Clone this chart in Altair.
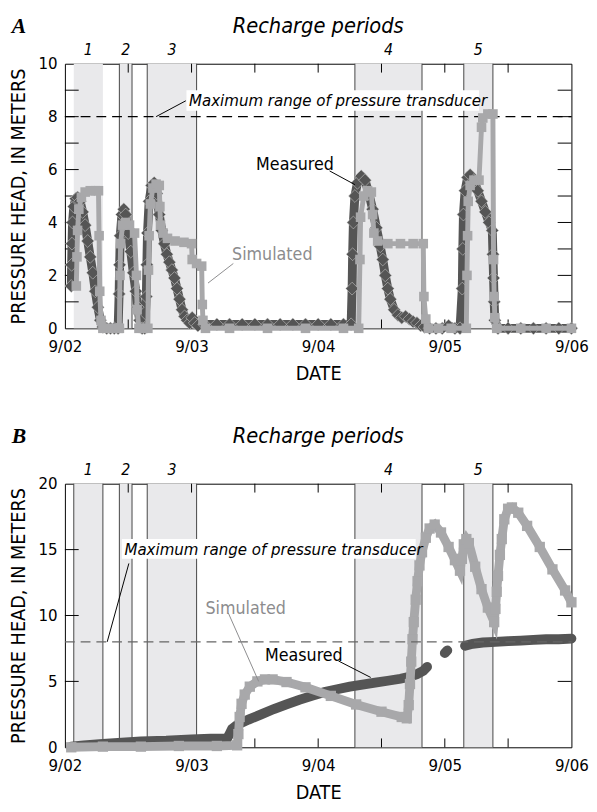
import altair as alt
import pandas as pd

FONT = "'Liberation Sans Narrow', 'DejaVu Sans Condensed', 'Roboto Condensed', Roboto, sans-serif"
DARK = "#555555"
LIGHT = "#a8a8aa"
SHADE = "#e9e9eb"

# ---------------- shared data ----------------
x_tick_days = [0, 1, 2, 3, 4]
x_labels = ["9/02", "9/03", "9/04", "9/05", "9/06"]
half_day_ticks = [0.5, 1.0, 1.5, 2.0, 2.5, 3.0, 3.5]
period_labels = ["1", "2", "3", "4", "5"]
period_start = [0.07, 0.43, 0.65, 2.29, 3.15]
period_end = [0.30, 0.53, 1.04, 2.82, 3.38]

# ---------------- panel A data ----------------
a_meas_day = [0.05, 0.053, 0.056, 0.06, 0.07, 0.085, 0.10, 0.12, 0.14, 0.16, 0.18, 0.20, 0.22, 0.24, 0.26, 0.28, 0.30, 0.33, 0.36, 0.39, 0.42,
              0.428, 0.432, 0.437, 0.45, 0.465, 0.48, 0.50, 0.52, 0.54, 0.56, 0.575, 0.59, 0.61, 0.63,
              0.643, 0.647, 0.652, 0.665, 0.685, 0.705, 0.725, 0.745, 0.765, 0.785, 0.805, 0.825, 0.845, 0.865, 0.885, 0.905, 0.925, 0.945, 0.965, 0.985, 1.005, 1.025, 1.05,
              1.10, 1.2, 1.3, 1.4, 1.5, 1.6, 1.7, 1.8, 1.9, 2.0, 2.1, 2.2, 2.26,
              2.268, 2.272, 2.278, 2.29, 2.31, 2.34, 2.37, 2.40, 2.43, 2.46, 2.49, 2.51, 2.53, 2.55, 2.57, 2.60, 2.63, 2.66, 2.69, 2.72, 2.75, 2.78, 2.81, 2.84, 2.88, 2.93, 2.98, 3.03, 3.08, 3.12,
              3.138, 3.142, 3.147, 3.16, 3.18, 3.20, 3.23, 3.26, 3.29, 3.32, 3.35, 3.375, 3.38, 3.385, 3.39, 3.395, 3.42, 3.5, 3.6, 3.7, 3.8, 3.9, 4.0]
a_meas_head = [1.6, 2.4, 3.2, 4.0, 4.6, 4.9, 4.95, 4.8, 4.4, 3.9, 3.3, 2.7, 2.1, 1.4, 0.8, 0.3, 0.05, 0.0, 0.0, 0.0, 0.0,
               1.3, 2.4, 3.5, 4.3, 4.5, 4.3, 3.6, 2.9, 2.1, 1.4, 0.8, 0.3, 0.0, 0.0,
               1.2, 2.4, 3.6, 4.8, 5.4, 5.5, 5.1, 4.3, 3.7, 3.2, 2.8, 2.5, 2.2, 1.9, 1.5, 1.1, 0.7, 0.45, 0.3, 0.2, 0.4, 0.2, 0.1,
               0.15, 0.15, 0.15, 0.15, 0.15, 0.15, 0.15, 0.15, 0.15, 0.15, 0.15, 0.15, 0.15,
               1.5, 2.8, 4.0, 5.0, 5.5, 5.75, 5.6, 5.1, 4.5, 3.8, 3.1, 2.6, 2.0, 1.5, 1.1, 0.7, 0.5, 0.4, 0.45, 0.35, 0.25, 0.2, 0.1, 0.05, 0.0, 0.0, 0.0, 0.1, 0.0, 0.0,
               1.5, 3.0, 4.3, 5.2, 5.7, 5.8, 5.6, 5.2, 4.8, 4.4, 4.0, 3.7, 2.8, 1.9, 1.0, 0.3, 0.0, 0.0, 0.0, 0.0, 0.0, 0.0, 0.0]

a_sim_day = [0.09, 0.095, 0.10, 0.11, 0.13, 0.16, 0.20, 0.24, 0.265, 0.27, 0.275, 0.285, 0.30, 0.36, 0.42,
             0.43, 0.435, 0.44, 0.455, 0.48, 0.51, 0.55, 0.565, 0.57, 0.585, 0.62, 0.655,
             0.66, 0.665, 0.675, 0.695, 0.72, 0.745, 0.75, 0.755, 0.775, 0.81, 0.87, 0.94, 1.0, 1.005, 1.04, 1.08, 1.085, 1.09, 1.11, 1.3, 1.6, 1.9, 2.2, 2.32,
             2.33, 2.335, 2.36, 2.39, 2.42, 2.43, 2.44, 2.47, 2.55, 2.65, 2.75, 2.83, 2.835, 2.85, 2.87, 2.95, 3.05, 3.17,
             3.175, 3.18, 3.185, 3.20, 3.23, 3.27, 3.29, 3.30, 3.34, 3.38, 3.385, 3.39, 3.395, 3.41, 3.6, 3.8, 4.0]
a_sim_head = [1.6, 2.7, 3.7, 4.5, 4.95, 5.15, 5.2, 5.2, 5.2, 3.5, 1.4, 0.3, 0.0, 0.0, 0.0,
              0.0, 2.0, 3.2, 3.9, 4.0, 3.9, 3.6, 2.0, 0.7, 0.0, 0.0, 0.0,
              2.2, 3.5, 4.7, 5.3, 5.45, 5.4, 4.6, 3.9, 3.6, 3.4, 3.3, 3.25, 3.2, 2.6, 2.45, 2.35, 0.9, 0.3, 0.0, 0.0, 0.0, 0.0, 0.0, 0.0,
              2.6, 4.2, 5.0, 5.2, 5.15, 4.3, 3.6, 3.3, 3.2, 3.2, 3.2, 3.2, 1.2, 0.35, 0.0, 0.0, 0.0, 0.0,
              2.0, 3.5, 4.8, 5.4, 5.6, 5.6, 7.6, 7.95, 8.1, 8.1, 2.6, 1.2, 0.4, 0.0, 0.0, 0.0, 0.0]

# ---------------- panel B data ----------------
b_meas_day = [0.05, 0.15, 0.3, 0.45, 0.6, 0.8, 1.0, 1.15, 1.28, 1.30, 1.32, 1.36, 1.45, 1.55, 1.65, 1.75, 1.85, 1.95, 2.05, 2.15, 2.25, 2.35, 2.45, 2.55, 2.65, 2.72, 2.78, 2.83, 2.86,
              3.0, 3.02,
              3.16, 3.22, 3.30, 3.40, 3.50, 3.60, 3.70, 3.80, 3.90, 4.0]
b_meas_head = [0.05, 0.15, 0.25, 0.35, 0.45, 0.5, 0.6, 0.65, 0.65, 1.0, 1.4, 1.7, 2.1, 2.5, 2.9, 3.25, 3.6, 3.9, 4.2, 4.4, 4.6, 4.75, 4.9, 5.05, 5.2, 5.35, 5.55, 5.8, 6.1,
               7.15, 7.35,
               7.7, 7.85, 7.95, 8.0, 8.05, 8.1, 8.15, 8.2, 8.2, 8.25]
b_meas_seg = [1] * 29 + [2] * 2 + [3] * 10

b_sim_day = [0.05, 0.3, 0.6, 0.9, 1.2, 1.36, 1.37, 1.38, 1.395, 1.42, 1.46, 1.52, 1.58, 1.64, 1.75, 1.9, 2.1, 2.3, 2.5, 2.66, 2.70,
             2.715, 2.725, 2.735, 2.745, 2.755, 2.77, 2.785, 2.80, 2.82, 2.85, 2.88, 2.92, 2.97, 3.03, 3.08, 3.12,
             3.135, 3.15, 3.17, 3.19, 3.24, 3.29, 3.34, 3.39, 3.40, 3.41, 3.42, 3.435, 3.45, 3.47, 3.50, 3.53, 3.58, 3.65, 3.75, 3.85, 3.95, 4.0]
b_sim_head = [0.0, 0.05, 0.05, 0.1, 0.1, 0.15, 1.0, 2.3, 3.3, 4.0, 4.6, 5.0, 5.15, 5.15, 4.95, 4.55, 3.9, 3.25, 2.7, 2.3, 2.2,
              3.2, 4.8, 6.5, 8.2, 9.5, 11.2, 12.6, 13.8, 14.8, 15.9, 16.6, 16.9, 16.3, 15.2, 14.2, 13.4,
              14.3, 15.4, 15.8, 15.5, 13.7, 12.0, 10.6, 9.5, 10.5, 11.8, 13.0, 14.6, 15.8, 17.3, 18.1, 18.2, 17.8, 16.8, 15.2, 13.5, 11.9, 11.0]

W = 515


def panel(letter, ymax, height, ylabels, yticks, meas_df, sim_df, kind, ann, header_dy, dash_color):
    xscale = alt.Scale(domain=[0, 4], nice=False, zero=False)
    yscale = alt.Scale(domain=[0, ymax], nice=False)
    xaxis = alt.Axis(values=x_tick_days, labelExpr="['9/02','9/03','9/04','9/05','9/06'][datum.value]",
                     title="DATE", labelFlush=False, labelPadding=11, titlePadding=9)
    yaxis = alt.Axis(values=ylabels, title="PRESSURE HEAD, IN METERS", labelPadding=8, titlePadding=10)

    def X(f):
        return alt.X(f, type="quantitative", scale=xscale, axis=xaxis)

    def Y(f):
        return alt.Y(f, type="quantitative", scale=yscale, axis=yaxis)

    periods = pd.DataFrame({"s": period_start, "e": period_end, "lab": period_labels})
    periods["mid"] = (periods["s"] + periods["e"]) / 2
    periods["y0"] = 0.0
    periods["y1"] = float(ymax)

    shade = alt.Chart(periods).mark_rect(color=SHADE).encode(
        x=X("s"), x2="e", y=Y("y0"), y2="y1")
    edges = pd.DataFrame({"d": period_start + period_end, "p": list(range(5)) * 2})
    if letter == "A":
        edges = edges[edges["p"] != 0]
    edge_rules = alt.Chart(edges).mark_rule(color="#444444", strokeWidth=1).encode(
        x=X("d"), y=alt.value(0), y2=alt.value(height))

    ticks_df = pd.DataFrame({"v": yticks})
    left_ticks = alt.Chart(ticks_df).mark_rule(color="black").encode(
        y=Y("v"), x=alt.value(0), x2=alt.value(14))
    right_ticks = alt.Chart(ticks_df).mark_rule(color="black").encode(
        y=Y("v"), x=alt.value(W), x2=alt.value(W - 14))
    xt = pd.DataFrame({"d": half_day_ticks})
    top_ticks = alt.Chart(xt).mark_rule(color="black").encode(
        x=X("d"), y=alt.value(0), y2=alt.value(9))
    bot_ticks = alt.Chart(xt).mark_rule(color="black").encode(
        x=X("d"), y=alt.value(height), y2=alt.value(height - 9))

    dash = alt.Chart(pd.DataFrame({"v": [8.0], "a": [0.0], "b": [4.0]})).mark_rule(
        color=dash_color, strokeDash=[10, 6], strokeWidth=1.1).encode(x=X("a"), x2="b", y=Y("v"))

    box = alt.Chart(pd.DataFrame({"a": [ann["box"][0]], "b": [ann["box"][1]], "c": [ann["box"][2]], "d": [ann["box"][3]]})).mark_rect(
        color="white").encode(x=X("a"), x2="b", y=Y("c"), y2="d")

    texts = pd.DataFrame({
        "t": ["Maximum range of pressure transducer", "Measured", "Simulated"],
        "x": [ann["max"][0], ann["meas"][0], ann["sim"][0]],
        "y": [ann["max"][1], ann["meas"][1], ann["sim"][1]],
    })
    ann_max = alt.Chart(texts.iloc[[0]]).mark_text(
        align="left", baseline="middle", font=FONT, fontSize=17, fontStyle="italic", color="black"
    ).encode(x=X("x"), y=Y("y"), text="t:N")
    ann_meas = alt.Chart(texts.iloc[[1]]).mark_text(
        align="left", baseline="middle", font=FONT, fontSize=18, color="black"
    ).encode(x=X("x"), y=Y("y"), text="t:N")
    ann_sim = alt.Chart(texts.iloc[[2]]).mark_text(
        align="left", baseline="middle", font=FONT, fontSize=18, color="#8c8c8e"
    ).encode(x=X("x"), y=Y("y"), text="t:N")

    leaders = pd.DataFrame({
        "x1": [ann["lmax"][0], ann["lmeas"][0], ann["lsim"][0]],
        "y1": [ann["lmax"][1], ann["lmeas"][1], ann["lsim"][1]],
        "x2": [ann["lmax"][2], ann["lmeas"][2], ann["lsim"][2]],
        "y2": [ann["lmax"][3], ann["lmeas"][3], ann["lsim"][3]],
        "c": ["black", "black", "#8c8c8e"],
    })
    lead = alt.Chart(leaders).mark_rule(strokeWidth=1).encode(
        x=X("x1"), y=Y("y1"), x2="x2", y2="y2", color=alt.Color("c:N", scale=None))

    if kind == "A":
        meas_line = alt.Chart(meas_df).mark_line(color=DARK, strokeWidth=9, strokeJoin="round").encode(
            x=X("day"), y=Y("head"), order="i:Q")
        meas_pts = alt.Chart(meas_df).mark_point(shape="diamond", filled=True, fill=DARK, stroke="#dddddd",
                                                 strokeWidth=0.5, size=170, opacity=1).encode(
            x=X("day"), y=Y("head"))
        sim_line = alt.Chart(sim_df).mark_line(color=LIGHT, strokeWidth=5).encode(
            x=X("day"), y=Y("head"), order="i:Q")
        sim_pts = alt.Chart(sim_df).mark_square(color=LIGHT, size=95, opacity=1).encode(
            x=X("day"), y=Y("head"))
        data_layers = [meas_line, meas_pts, sim_line, sim_pts]
    else:
        meas_line = alt.Chart(meas_df).mark_line(color=DARK, strokeWidth=10, strokeCap="round").encode(
            x=X("day"), y=Y("head"), detail="seg:N", order="i:Q")
        sim_line = alt.Chart(sim_df).mark_line(color=LIGHT, strokeWidth=9).encode(
            x=X("day"), y=Y("head"), order="i:Q")
        sim_pts = alt.Chart(sim_df).mark_square(color=LIGHT, size=110, opacity=1).encode(
            x=X("day"), y=Y("head"))
        data_layers = [meas_line, sim_line, sim_pts]

    head_rp = alt.Chart(pd.DataFrame({"t": ["Recharge periods"], "x": [2.0]})).mark_text(
        font=FONT, fontSize=22, fontStyle="italic", baseline="middle", align="center"
    ).encode(x=X("x"), y=alt.value(header_dy[0]), text="t:N")
    head_nums = alt.Chart(periods).mark_text(
        font=FONT, fontSize=16, fontStyle="italic", baseline="middle", align="center"
    ).encode(x=X("mid"), y=alt.value(header_dy[1]), text="lab:N")
    head_letter = alt.Chart(pd.DataFrame({"t": [letter]})).mark_text(
        font="Liberation Serif", fontSize=22, fontStyle="italic", fontWeight="bold",
        baseline="middle", align="left"
    ).encode(x=alt.value(-54), y=alt.value(header_dy[0]), text="t:N")

    layers = ([shade, edge_rules, left_ticks, right_ticks, top_ticks, bot_ticks]
              + data_layers[:1] + ([dash] if kind == "A" else []) + data_layers[1:]
              + ([dash] if kind == "B" else [])
              + [box, lead, ann_max, ann_meas, ann_sim, head_rp, head_nums, head_letter])
    return alt.layer(*layers).properties(width=W, height=height)


meas_a = pd.DataFrame({"day": a_meas_day, "head": a_meas_head})
meas_a["i"] = range(len(meas_a))
sim_a = pd.DataFrame({"day": a_sim_day, "head": a_sim_head})
sim_a["i"] = range(len(sim_a))
meas_b = pd.DataFrame({"day": b_meas_day, "head": b_meas_head, "seg": b_meas_seg})
meas_b["i"] = range(len(meas_b))
sim_b = pd.DataFrame({"day": b_sim_day, "head": b_sim_head})
sim_b["i"] = range(len(sim_b))

ann_a = {
    "max": (0.98, 8.6), "box": (0.96, 3.27, 8.22, 9.0),
    "meas": (1.51, 6.17), "sim": (1.32, 2.75),
    "lmax": (0.72, 8.0, 0.955, 8.6),
    "lmeas": (2.09, 5.95, 2.29, 5.43),
    "lsim": (1.33, 2.45, 1.13, 1.71),
}
ann_b = {
    "max": (0.47, 15.0), "box": (0.45, 2.77, 14.3, 15.8),
    "meas": (1.58, 6.9), "sim": (1.11, 10.5),
    "lmax": (0.334, 8.0, 0.505, 13.95),
    "lmeas": (2.16, 6.55, 2.415, 5.3),
    "lsim": (1.29, 10.2, 1.53, 5.0),
}

pa = panel("A", 10, 269, [0, 2, 4, 6, 8, 10], [1, 2, 3, 4, 5, 6, 7, 8, 9], meas_a, sim_a, "A", ann_a, (-38, -14), "black")
pb = panel("B", 20, 268, [0, 5, 10, 15, 20], [5, 10, 15], meas_b, sim_b, "B", ann_b, (-48, -14), "#666666")

chart = alt.vconcat(pa, pb, spacing=41).properties(
    padding={"left": 8, "top": 8, "right": 5, "bottom": 3}
).configure_view(stroke="black", strokeWidth=1).configure_axis(
    grid=False, domain=False, ticks=False, labelFont=FONT, labelFontSize=17, labelColor="black",
    titleFont=FONT, titleFontSize=20, titleFontWeight="normal", titleColor="black", labelOverlap=False
).configure_concat(spacing=41)

chart.save("out.html", embed_options={"renderer": "svg", "actions": False})
